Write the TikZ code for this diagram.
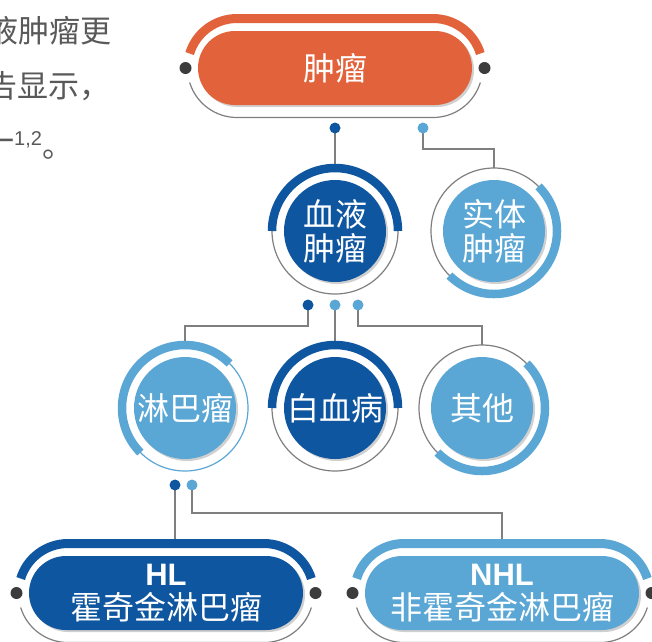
\documentclass[tikz,border=0pt]{standalone}
\usepackage{fontspec}
\setmainfont{Liberation Sans}
\newfontfamily\cjk{Noto Sans CJK SC}
\usetikzlibrary{calc,shadows}
\definecolor{orng}{HTML}{E2633B}
\definecolor{dblue}{HTML}{0F56A0}
\definecolor{lblue}{HTML}{5AA7D6}
\definecolor{lnc}{HTML}{7F7F7F}
\definecolor{dotc}{HTML}{3C3C3C}
\definecolor{txtg}{HTML}{595959}
\pgfdeclarelayer{bg}
\pgfsetlayers{bg,main}
\tikzset{
  conn/.style={draw=lnc, line width=1.4pt},
  softshadow/.style={drop shadow={shadow xshift=2pt, shadow yshift=-2pt, opacity=0.3, fill=black!60}},
  pill/.style={rectangle, rounded corners=37pt, minimum width=274pt, minimum height=74pt,
    inner sep=0pt, text=white, align=center, softshadow},
  disc/.style={circle, minimum size=102pt, inner sep=0pt, text=white, align=center, softshadow},
  cjkbig/.style={font=\cjk\fontsize{32}{34}\selectfont},
  bdot/.style={circle, fill=dblue, minimum size=11pt, inner sep=0pt},
  ldot/.style={circle, fill=lblue, minimum size=11pt, inner sep=0pt},
  sdot/.style={circle, fill=dotc, minimum size=12pt, inner sep=0pt},
  bodytext/.style={inner sep=0pt, text=txtg, font=\cjk\fontsize{31}{31}\selectfont},
}
% ring frame: #1 centre, #2 thick colour, #3 thin colour, #4 start, #5 end
\newcommand{\ringfr}[5]{%
  \fill[white] (#1) circle[radius=63pt];
  \draw[#3, line width=1.2pt] (#1) circle[radius=63pt];
  \draw[#2, line width=8.5pt] ($(#1)+(#4:63pt)$) arc[start angle=#4, end angle=#5, radius=63pt];
}
% pill frame: #1 centre, #2 colour, #3 name prefix
\newcommand{\pillfr}[3]{%
  \fill[white, rounded corners=49.5pt] ($(#1)+(-147.5,-49.5)$) rectangle ($(#1)+(147.5,49.5)$);
  \draw[lnc, line width=1.2pt] ($(#1)+(-98,0)+(197:49.5pt)$) arc[start angle=197, end angle=270, radius=49.5pt]
     -- ++(196pt,0) arc[start angle=270, end angle=343, radius=49.5pt];
  \draw[#2, line width=9pt] ($(#1)+(-98,0)+(163:49.5pt)$) arc[start angle=163, end angle=90, radius=49.5pt]
     -- ++(196pt,0) arc[start angle=90, end angle=17, radius=49.5pt];
  \node[sdot] (#3l) at ($(#1)+(-149.5,0)$) {};
  \node[sdot] (#3r) at ($(#1)+(149.5,0)$) {};
}
\begin{document}
\begin{tikzpicture}[x=1pt, y=-1pt]
\useasboundingbox (0,0) rectangle (652,641);

% paragraph fragment at top left (cut by the left edge, as in the reference)
\node[bodytext, anchor=base west] (t1) at (-13,42) {液肿瘤更};
\node[bodytext, anchor=base west] (t2) at (-14,97) {告显示，};
\node[bodytext, anchor=base west] (t3) at (-17,152) {一\raisebox{7pt}{\fontspec{Liberation Sans}\fontsize{20}{20}\selectfont 1,2}\raisebox{-5pt}{。}};

% top pill
\coordinate (zlc) at (335,68);
\pillfr{zlc}{orng}{zlf}
\node[pill, fill=orng, cjkbig] (zl) at (zlc) {肿瘤};

% level 2
\coordinate (xyc) at (335,231);
\ringfr{xyc}{dblue}{lnc}{180}{0}
\node[disc, fill=dblue, cjkbig] (xy) at (xyc) {血液\\肿瘤};

\coordinate (stc) at (494,231);
\ringfr{stc}{lblue}{lnc}{45}{-135}
\node[disc, fill=lblue, cjkbig] (st) at (stc) {实体\\肿瘤};

% level 3
\coordinate (lbc) at (185,408);
\ringfr{lbc}{lblue}{lblue}{45}{225}
\node[disc, fill=lblue, cjkbig] (lb) at (lbc) {淋巴瘤};

\coordinate (bxc) at (335,408);
\ringfr{bxc}{dblue}{lnc}{0}{180}
\node[disc, fill=dblue, cjkbig] (bx) at (bxc) {白血病};

\coordinate (qtc) at (482,408);
\ringfr{qtc}{lblue}{lnc}{45}{-135}
\node[disc, fill=lblue, cjkbig] (qt) at (qtc) {其他};

% level 4
\coordinate (hlc) at (166,593);
\pillfr{hlc}{dblue}{hlf}
\node[pill, fill=dblue, cjkbig] (hl) at (hlc) {{\fontspec{Liberation Sans}\bfseries\fontsize{31}{34}\selectfont HL}\\霍奇金淋巴瘤};

\coordinate (nhlc) at (502,593);
\pillfr{nhlc}{lblue}{nhlf}
\node[pill, fill=lblue, cjkbig] (nhl) at (nhlc) {{\fontspec{Liberation Sans}\bfseries\fontsize{31}{34}\selectfont NHL}\\非霍奇金淋巴瘤};

% dots
\node[bdot] (d1) at (335,128) {};
\node[ldot] (d2) at (423,128) {};
\node[bdot] (d3) at (308,305) {};
\node[ldot] (d4) at (335,305) {};
\node[ldot] (d5) at (358,305) {};
\node[bdot] (d6) at (175,485) {};
\node[ldot] (d7) at (192,485) {};

% connectors
\begin{pgfonlayer}{bg}
\draw[conn] (d1.center) -- (xy.center);
\draw[conn] (d2.center) -- ++(0,21) -| (st.center);
\draw[conn] (d3.center) -- ++(0,21) -| (lb.center);
\draw[conn] (d4.center) -- (bx.center);
\draw[conn] (d5.center) -- ++(0,21) -| (qt.center);
\draw[conn] (d6.center) -- (d6.center |- hl.center);
\draw[conn] (d7.center) -- ++(0,28) -| (nhl.center);
\end{pgfonlayer}
\end{tikzpicture}
\end{document}
